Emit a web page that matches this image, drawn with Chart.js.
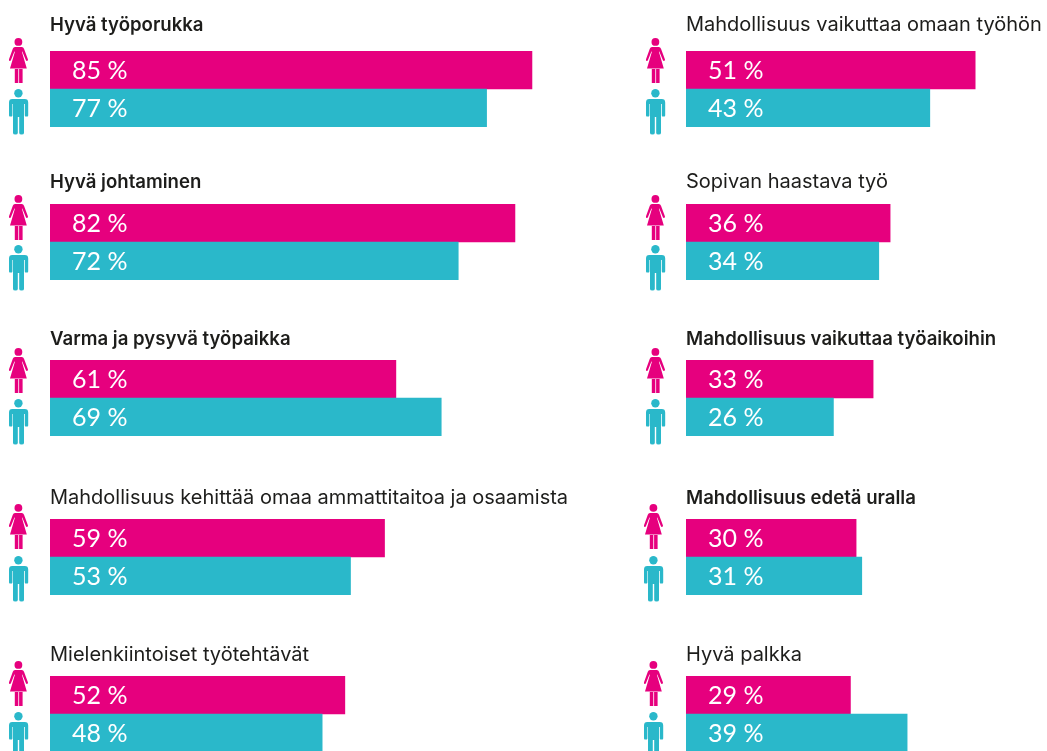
<!DOCTYPE html>
<html lang="fi">
<head>
<meta charset="utf-8">
<title>Työpaikan tärkeät asiat</title>
<script src="https://cdn.jsdelivr.net/npm/chart.js@4"></script>
<style>
html,body{margin:0;padding:0;width:1047px;height:751px;overflow:hidden;background:#fff}
canvas,svg.ic{position:absolute;display:block}
</style>
</head>
<body>
<svg width="0" height="0" style="position:absolute">
  <symbol id="woman" viewBox="0 0 20 46">
    <circle cx="9.4" cy="3.9" r="3.9"/>
    <path d="M6 9H12.8Q14.4 9 15 10.8L18.9 21.2Q19.2 22.6 18.1 22.9Q17.2 23 16.8 22L13.3 13.6L12.9 13.8L17.8 30.4H1L5.9 13.8L5.4 13.6L2 22Q1.6 23 .7 22.9Q-.3 22.6 0 21.2L3.8 10.8Q4.4 9 6 9Z"/>
    <rect x="5.8" y="31" width="3.5" height="14"/>
    <rect x="10.1" y="31" width="3.5" height="14"/>
  </symbol>
  <symbol id="man" viewBox="0 0 20 46">
    <circle cx="9.4" cy="4.3" r="4.2"/>
    <path d="M3.2 10H15.8Q19.2 10 19.2 13.4V26.4Q19.2 27.6 17.4 27.6Q15.8 27.6 15.8 26.4V15H15V44Q15 45.5 12.6 45.5Q10.2 45.5 10.2 44V28H8.8V44Q8.8 45.5 6.4 45.5Q4 45.5 4 44V15H3.4V26.4Q3.4 27.6 1.8 27.6Q0 27.6 0 26.4V13.4Q0 10 3.2 10Z"/>
  </symbol>
</svg>
<script>
// --- Data ---
const titlesLeft = ['Hyvä työporukka','Hyvä johtaminen','Varma ja pysyvä työpaikka','Mahdollisuus kehittää omaa ammattitaitoa ja osaamista','Mielenkiintoiset työtehtävät'];
const womenLeft = [85,82,61,59,52];
const menLeft = [77,72,69,53,48];
const boldLeft = [true,true,true,false,false];

const titlesRight = ['Mahdollisuus vaikuttaa omaan työhön','Sopivan haastava työ','Mahdollisuus vaikuttaa työaikoihin','Mahdollisuus edetä uralla','Hyvä palkka'];
const womenRight = [51,36,33,30,29];
const menRight = [43,34,26,31,39];
const boldRight = [false,false,true,true,false];

const groups = ['Naiset','Miehet'];

// --- Layout ---
const barTops = [51,204,360,519,676];
const titleMids = [25,182,339,498,655];
const womanTops = [38,195,348,504,661];
const manTops = [89,245,399,556,712];
const iconXLeft = [9,9,9,9,9];
const iconXRight = [646,646,646,644,644];
const PINK = '#E6007E', TEAL = '#2AB8CA', INK = '#1d1d1b';
const TITLE_FONT = 'Inter', VALUE_FONT = 'Lato';
const PX_PER_PCT = 5.67;
const BAR_H = 76, TITLE_LH = 24;

const valueLabels = {
  id:'valueLabels',
  afterDatasetsDraw(chart){
    const {ctx,scales:{x,y}} = chart, data = chart.data.datasets[0].data;
    ctx.save();
    ctx.fillStyle = '#fff';
    ctx.font = '400 25px ' + VALUE_FONT;
    ctx.textBaseline = 'middle';
    ctx.textAlign = 'left';
    data.forEach((v,i)=>ctx.fillText(v + ' %', x.getPixelForValue(0) + 22, y.getPixelForValue(i) + 1));
    ctx.restore();
  }
};

function icon(kind,color,left,top){
  const s = document.createElementNS('http://www.w3.org/2000/svg','svg');
  s.setAttribute('class','ic');
  s.setAttribute('width','20'); s.setAttribute('height','46');
  s.style.left = left + 'px'; s.style.top = top + 'px'; s.style.fill = color;
  const u = document.createElementNS('http://www.w3.org/2000/svg','use');
  u.setAttribute('href','#' + kind);
  s.appendChild(u);
  document.body.appendChild(s);
}

function panel(title,bold,w,m,i,left,width,iconX){
  const c = document.createElement('canvas');
  const pad = barTops[i] - titleMids[i] - TITLE_LH/2;
  const h = TITLE_LH + pad + BAR_H;
  c.style.left = left + 'px';
  c.style.top = (titleMids[i] - TITLE_LH/2) + 'px';
  c.style.width = width + 'px';
  c.style.height = h + 'px';
  c.width = width; c.height = h;
  document.body.appendChild(c);
  new Chart(c,{
    type:'bar',
    data:{labels:groups,datasets:[{
      data:[w,m],
      backgroundColor:[PINK,TEAL],
      borderWidth:0,
      barPercentage:1,
      categoryPercentage:1
    }]},
    options:{
      indexAxis:'y',
      responsive:false,
      animation:false,
      layout:{padding:0},
      scales:{
        x:{display:false,min:0,max:width/PX_PER_PCT},
        y:{display:false}
      },
      plugins:{
        legend:{display:false},
        tooltip:{enabled:false},
        title:{
          display:true,text:title,align:'start',color:INK,
          padding:{top:0,bottom:pad},
          font:{family:TITLE_FONT,size:bold?18.6:20,weight:bold?'600':'400',lineHeight:TITLE_LH+'px'}
        }
      }
    },
    plugins:[valueLabels]
  });
  icon('woman',PINK,iconX,womanTops[i]);
  icon('man',TEAL,iconX,manTops[i]);
}

titlesLeft.forEach((t,i)=>panel(t,boldLeft[i],womenLeft[i],menLeft[i],i,50,567,iconXLeft[i]));
titlesRight.forEach((t,i)=>panel(t,boldRight[i],womenRight[i],menRight[i],i,686,360,iconXRight[i]));
</script>
</body>
</html>
